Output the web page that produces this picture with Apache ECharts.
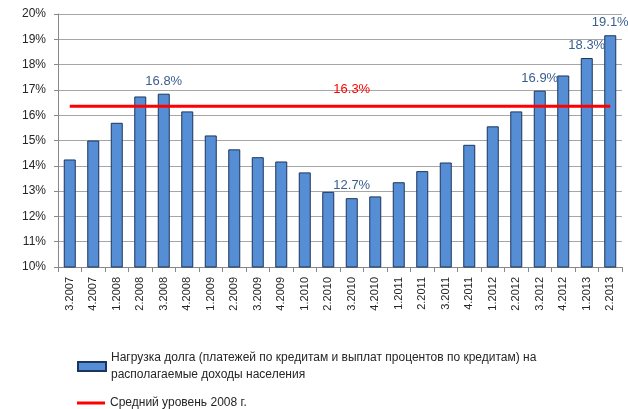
<!DOCTYPE html>
<html lang="ru">
<head>
    <meta charset="UTF-8">
    <title>chart</title>
    <style>
        html, body { margin: 0; padding: 0; background: #fff; }
    </style>
</head>
<body>
<div id="container" style="width:628px;height:409px"></div>

<script type="text/javascript" src="https://cdn.jsdelivr.net/npm/echarts@6/dist/echarts.min.js"></script>

<script type="text/javascript">
    // кварталы
    var categories = ['3.2007', '4.2007', '1.2008', '2.2008', '3.2008', '4.2008', '1.2009', '2.2009',
        '3.2009', '4.2009', '1.2010', '2.2010', '3.2010', '4.2010', '1.2011', '2.2011', '3.2011',
        '4.2011', '1.2012', '2.2012', '3.2012', '4.2012', '1.2013', '2.2013'];
    // нагрузка долга, %
    var debtLoad = [14.25, 15.0, 15.7, 16.74, 16.85, 16.15, 15.2, 14.65, 14.34, 14.17, 13.74, 12.97,
        12.72, 12.79, 13.35, 13.79, 14.13, 14.83, 15.56, 16.15, 16.97, 17.57, 18.26, 19.16];
    // подписи над столбцами (пусто - без подписи)
    var debtLabels = ['', '', '', '', '16.8%', '', '', '', '', '', '', '', '12.7%', '', '', '', '', '',
        '', '', '16.9%', '', '18.3%', '19.1%'];
    var avg2008 = 16.35;
    var avgLabel = '16.3%';
    var avgLabelIndex = 12;
    var yTicks = [10, 11, 12, 13, 14, 15, 16, 17, 18, 19, 20];

    var barName = 'Нагрузка долга (платежей по кредитам и выплат процентов по кредитам) на\nрасполагаемые доходы населения';
    var lineName = 'Средний уровень 2008 г.';

    var barColor = '#558ed5';
    var barBorder = '#1c355e';
    var labelColor = '#3a5f8f';
    var lineColor = '#ff0000';
    var axisColor = '#888888';
    var gridColor = '#a6a6a6';
    var textColor = '#262626';
    var font = 'Liberation Sans';

    var dom = document.getElementById("container");
    var myChart = echarts.init(dom);
    myChart.setOption(drawChart(), true);

    function drawChart() {
        return {
            animation: false,
            grid: {
                left: 58,
                right: 6,
                top: 14,
                bottom: 142
            },
            legend: [{
                orient: 'vertical',
                left: 77,
                top: 341,
                padding: 0,
                itemWidth: 28,
                itemHeight: 9,
                data: [{name: barName, icon: 'rect'}],
                textStyle: {
                    color: textColor,
                    fontFamily: font,
                    fontSize: 12,
                    lineHeight: 17,
                    padding: [17, 0, 0, 0]
                }
            }, {
                orient: 'vertical',
                left: 77,
                top: 397,
                padding: 0,
                itemWidth: 28,
                itemHeight: 3,
                data: [{name: lineName, icon: 'rect'}],
                textStyle: {
                    color: textColor,
                    fontFamily: font,
                    fontSize: 12
                }
            }],
            xAxis: {
                type: 'category',
                data: categories,
                axisLine: {
                    lineStyle: {color: axisColor}
                },
                axisTick: {
                    show: true,
                    length: 5,
                    lineStyle: {color: axisColor}
                },
                axisLabel: {
                    rotate: 90,
                    interval: 0,
                    margin: 10,
                    color: textColor,
                    fontFamily: font,
                    fontSize: 11
                }
            },
            yAxis: {
                type: 'value',
                min: yTicks[0],
                max: yTicks[yTicks.length - 1],
                interval: 1,
                axisLine: {
                    show: true,
                    lineStyle: {color: axisColor}
                },
                axisTick: {
                    show: true,
                    length: 4,
                    lineStyle: {color: axisColor}
                },
                axisLabel: {
                    margin: 12,
                    color: textColor,
                    fontFamily: font,
                    fontSize: 12,
                    formatter: function (val) {
                        return val + '%';
                    }
                },
                splitLine: {
                    show: true,
                    lineStyle: {color: gridColor}
                }
            },
            series: [{
                type: 'bar',
                name: barName,
                data: debtLoad,
                barWidth: 12,
                itemStyle: {
                    color: barColor,
                    borderColor: barBorder,
                    borderWidth: 1
                },
                label: {
                    show: true,
                    position: 'top',
                    distance: 6,
                    color: labelColor,
                    fontFamily: font,
                    fontSize: 13,
                    formatter: function (p) {
                        return debtLabels[p.dataIndex];
                    }
                }
            }, {
                type: 'line',
                name: lineName,
                data: categories.map(function () {
                    return avg2008;
                }),
                symbol: 'circle',
                symbolSize: 0,
                showSymbol: true,
                z: 3,
                itemStyle: {color: lineColor},
                lineStyle: {color: lineColor, width: 3},
                label: {
                    show: true,
                    position: 'top',
                    distance: 10,
                    color: lineColor,
                    fontFamily: font,
                    fontSize: 13,
                    formatter: function (p) {
                        return p.dataIndex === avgLabelIndex ? avgLabel : '';
                    }
                }
            }]
        };
    }
</script>
</body>
</html>
